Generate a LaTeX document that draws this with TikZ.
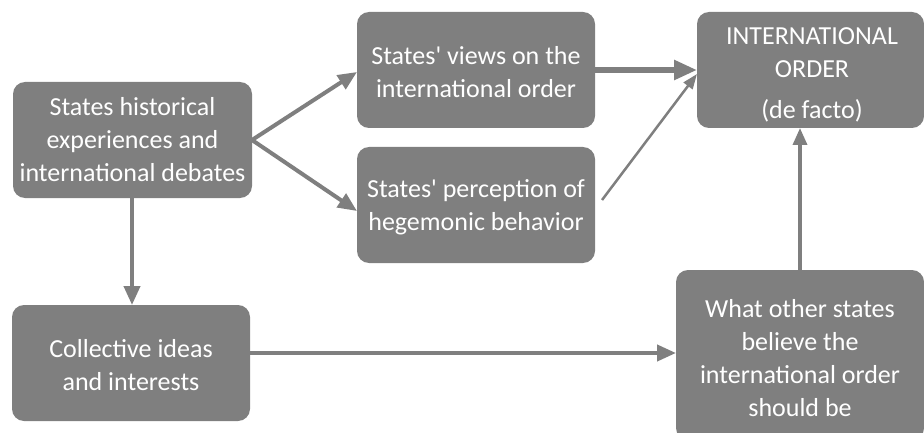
\documentclass[tikz,border=0pt]{standalone}
\usepackage{fontspec}
\setmainfont{Carlito}
\usetikzlibrary{arrows.meta}
\definecolor{boxgray}{HTML}{7F7F7F}
\begin{document}
\begin{tikzpicture}[x=1pt,y=-1pt,
  box/.style={fill=boxgray,draw=none,rounded corners=12pt},
  lbl/.style={text=white,align=center,font=\fontsize{26}{33}\selectfont,inner sep=0pt},
  conn/.style={draw=boxgray,line width=4pt,-{Triangle[length=19pt,width=16pt]}},
  thick conn/.style={draw=boxgray,line width=5.5pt,-{Triangle[length=23pt,width=19pt]}},
  thin conn/.style={draw=boxgray,line width=2.5pt,-{Triangle[length=15pt,width=11pt]}},
  mid conn/.style={draw=boxgray,line width=3.5pt,-{Triangle[length=17pt,width=14pt]}}]
\useasboundingbox (0,0) rectangle (924,433);
% boxes
\path[box] (13,82) rectangle (252,198);
\node[lbl] (a) at (132.5,140) {States historical\\experiences and\\international debates};
\path[box] (357,12) rectangle (595,128);
\node[lbl] (b) at (476,72) {States\textquotesingle\ views on the\\international order};
\path[box] (357,147) rectangle (595,263);
\node[lbl] (c) at (476,207) {States\textquotesingle\ perception of\\hegemonic behavior};
\path[box] (697,12) rectangle (924,128);
\node[lbl] (d) at (812,75) {INTERNATIONAL\\ORDER\\[8pt](de facto)};
\path[box] (12,305) rectangle (250,421);
\node[lbl] (e) at (131,365) {Collective ideas\\and interests};
\path[box] (676,270) rectangle (924,440);
\node[lbl] (f) at (800,358) {What other states\\believe the\\international order\\should be};
% anchor coordinates
\coordinate (aR) at (252,140);
\coordinate (aB) at (132,198);
\coordinate (bL) at (357,72);
\coordinate (cL) at (357,211);
\coordinate (bR) at (595,70);
\coordinate (dL) at (697,70);
\coordinate (dL2) at (697,74);
\coordinate (cR) at (602,200);
\coordinate (dB) at (800,128);
\coordinate (fT) at (800,270);
\coordinate (eR) at (250,353);
\coordinate (fL) at (676,353);
\coordinate (eT) at (132,305);
% connectors
\draw[conn] (aR) -- (bL);
\draw[conn] (aR) -- (cL);
\draw[conn] (aB) -- (eT);
\draw[thick conn] (bR) -- (dL);
\draw[thin conn] (cR) -- (dL2);
\draw[mid conn] (fT) -- (dB);
\draw[conn] (eR) -- (fL);
\end{tikzpicture}
\end{document}
